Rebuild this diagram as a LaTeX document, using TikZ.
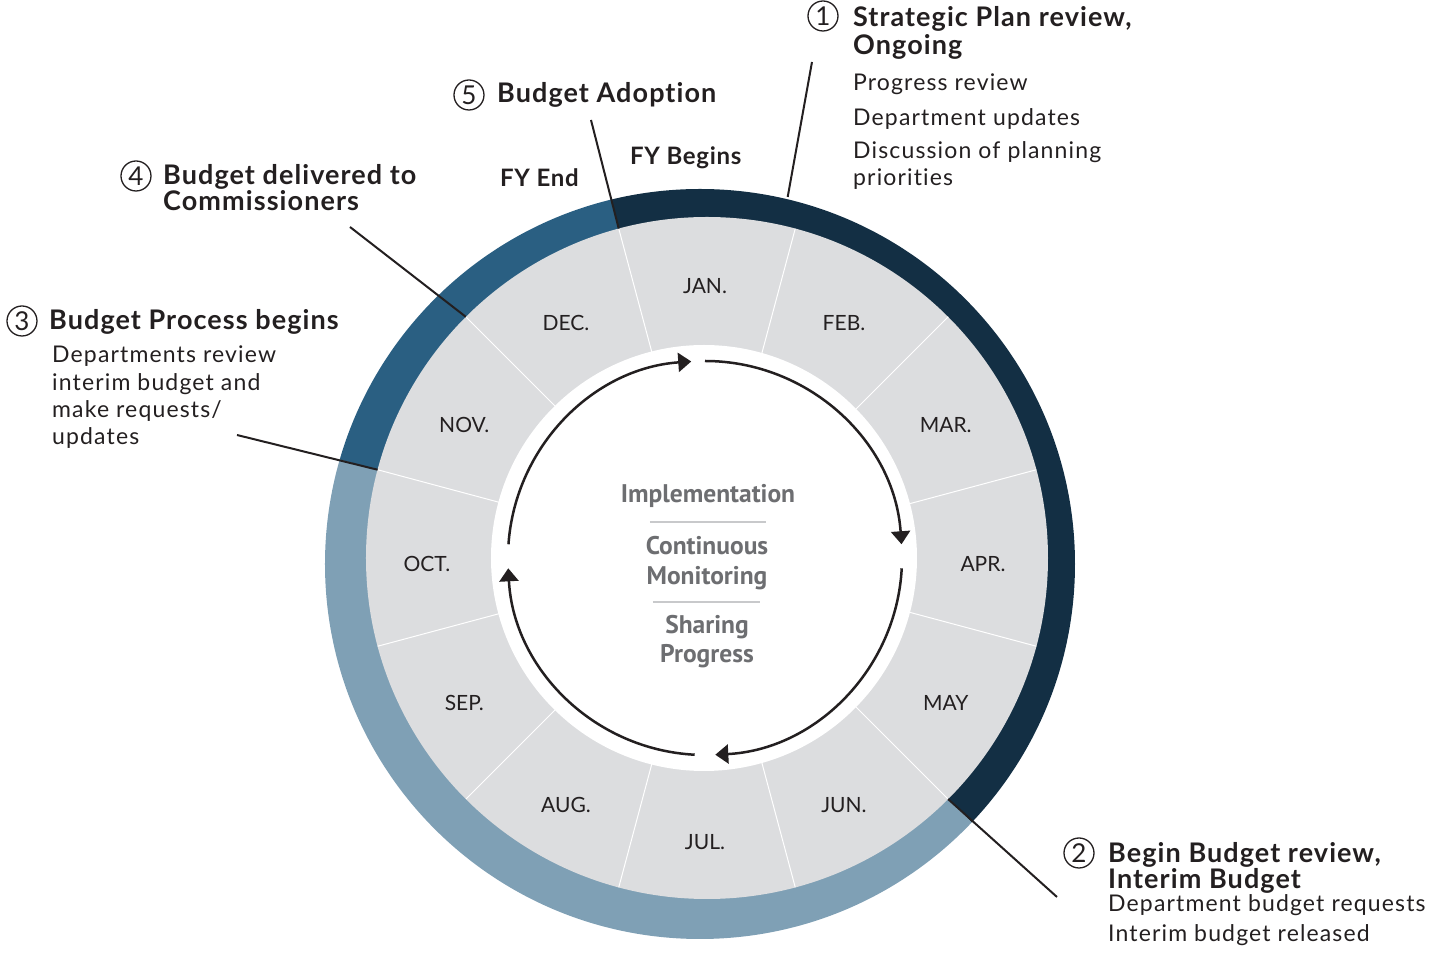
\documentclass[tikz,border=0pt]{standalone}
\usepackage{fontspec}
\setmainfont{Lato}
\newfontfamily\headfont{Lato}[LetterSpace=4, Ligatures=NoCommon]
\newfontfamily\notefont{Lato}[LetterSpace=5, Ligatures=NoCommon]
\newfontfamily\fyfont{Lato}[LetterSpace=3]
\newfontfamily\hubfont{PT Sans}
\usepackage{tikz}
\usetikzlibrary{arrows.meta}

\definecolor{navy}{HTML}{132F44}
\definecolor{midblue}{HTML}{2A5F82}
\definecolor{paleblue}{HTML}{7FA0B5}
\definecolor{band}{HTML}{DCDDDF}
\definecolor{ink}{HTML}{231F20}
\definecolor{hubgray}{HTML}{6D6E71}
\definecolor{rulegray}{HTML}{C8C9CB}

\begin{document}
\begin{tikzpicture}[x=1pt, y=1pt,
  month/.style={font=\fontsize{21}{25}\selectfont, text=ink},
  head/.style={anchor=base west, inner sep=0pt, font=\headfont\fontsize{27}{30}\selectfont\bfseries, text=ink},
  note/.style={anchor=base west, inner sep=0pt, font=\notefont\fontsize{23}{26}\selectfont, text=ink},
  fylabel/.style={anchor=base west, inner sep=0pt, font=\fyfont\fontsize{24}{27}\selectfont\bfseries, text=ink},
  hub/.style={anchor=base, inner sep=0pt, font=\hubfont\fontsize{25.5}{30}\selectfont\bfseries, text=hubgray},
  num/.style={circle, draw=ink, line width=1.3pt, minimum size=30pt, inner sep=0pt,
              font=\fontsize{26}{26}\selectfont, text=ink},
  leader/.style={draw=ink, line width=2pt},
  turn/.style={draw=ink, line width=2.5pt, -{Triangle[length=13pt, width=19pt]}},
  hubrule/.style={draw=rulegray, line width=2pt},
]
  \useasboundingbox (-707,-399) rectangle (726,558);

  % outer ring, three phases
  \begin{scope}
    \clip (-7,-6) circle[radius=375];
    \fill[navy]     (0,0) -- (-45:450) arc[start angle=-45, end angle=105, radius=450] -- cycle;
    \fill[midblue]  (0,0) -- (105:450) arc[start angle=105, end angle=165, radius=450] -- cycle;
    \fill[paleblue] (0,0) -- (165:450) arc[start angle=165, end angle=315, radius=450] -- cycle;
  \end{scope}

  % month band
  \fill[band] (0,0) circle[radius=341];
  \foreach \a in {15,45,...,345}
    \draw[white, line width=1pt] (\a:200) -- (\a:341);
  \fill[white] (-3,0) circle[radius=213];

  \foreach \m [count=\i from 0] in {JAN., FEB., MAR., APR., MAY, JUN., JUL., AUG., SEP., OCT., NOV., DEC.}
    \node[month] (m\i) at ([shift={(-2,-6)}]{90-30*\i}:278) {\m};

  % cycle arrows
  \draw[turn] ([shift={(-2,0)}]176:197) arc[start angle=176, end angle=94, radius=197];
  \draw[turn] ([shift={(-2,0)}]90:197)  arc[start angle=90, end angle=4, radius=197];
  \draw[turn] ([shift={(-2,0)}]-3:197)  arc[start angle=-3, end angle=-87, radius=197];
  \draw[turn] ([shift={(-2,0)}]-93:197) arc[start angle=-93, end angle=-177, radius=197];

  % hub text
  \node[hub] (impl) at (1,55) {Implementation};
  \draw[hubrule] (-57,36) -- (59,36);
  \node[hub] (cont) at (0,3) {Continuous};
  \node[hub] (moni) at (0,-27) {Monitoring};
  \draw[hubrule] (-54,-44) -- (53,-44);
  \node[hub] (shar) at (0,-76) {Sharing};
  \node[hub] (prog) at (0,-105) {Progress};

  % fiscal year marks
  \node[fylabel] (fyend) at (-207,371) {FY End};
  \node[fylabel] (fybeg) at (-77,393) {FY Begins};

  % callout 1
  \node[num] (n1) at (116,542) {1};
  \node[head] (h1a) at (146,531) {Strategic Plan review,};
  \node[head] (h1b) at (146,503) {Ongoing};
  \node[note] (t1a) at (146,467) {Progress review};
  \node[note] (t1b) at (146,432) {Department updates};
  \node[note] (t1c) at (146,399) {Discussion of planning};
  \node[note] (t1d) at (146,372) {priorities};

  % callout 2
  \node[num] (n2) at (372,-295) {2};
  \node[head] (h2a) at (401,-305) {Begin Budget review,};
  \node[head] (h2b) at (401,-331) {Interim Budget};
  \node[note] (t2a) at (401,-354) {Department budget requests};
  \node[note] (t2b) at (401,-384) {Interim budget released};

  % callout 3
  \node[num] (n3) at (-685,237) {3};
  \node[head] (h3a) at (-658,228) {Budget Process begins};
  \node[note] (t3a) at (-655,195) {Departments review};
  \node[note] (t3b) at (-655,167) {interim budget and};
  \node[note] (t3c) at (-655,140) {make requests/};
  \node[note] (t3d) at (-655,113) {updates};

  % callout 4
  \node[num] (n4) at (-571,382) {4};
  \node[head] (h4a) at (-544,373) {Budget delivered to};
  \node[head] (h4b) at (-544,347) {Commissioners};

  % callout 5
  \node[num] (n5) at (-238,463) {5};
  \node[head] (h5a) at (-210,455) {Budget Adoption};

  % leader lines
  \coordinate (l1) at (105,496);  \coordinate (r1) at (77.4:370);
  \coordinate (l2) at (350,-339); \coordinate (r2) at (-45:341);
  \coordinate (l3) at (-470,123); \coordinate (r3) at (165:341);
  \coordinate (l4) at (-357,331); \coordinate (r4) at (135:341);
  \coordinate (l5) at (-116,438); \coordinate (r5) at (105:341);
  \foreach \k in {1,...,5}
    \draw[leader] (l\k) -- (r\k);
\end{tikzpicture}
\end{document}
